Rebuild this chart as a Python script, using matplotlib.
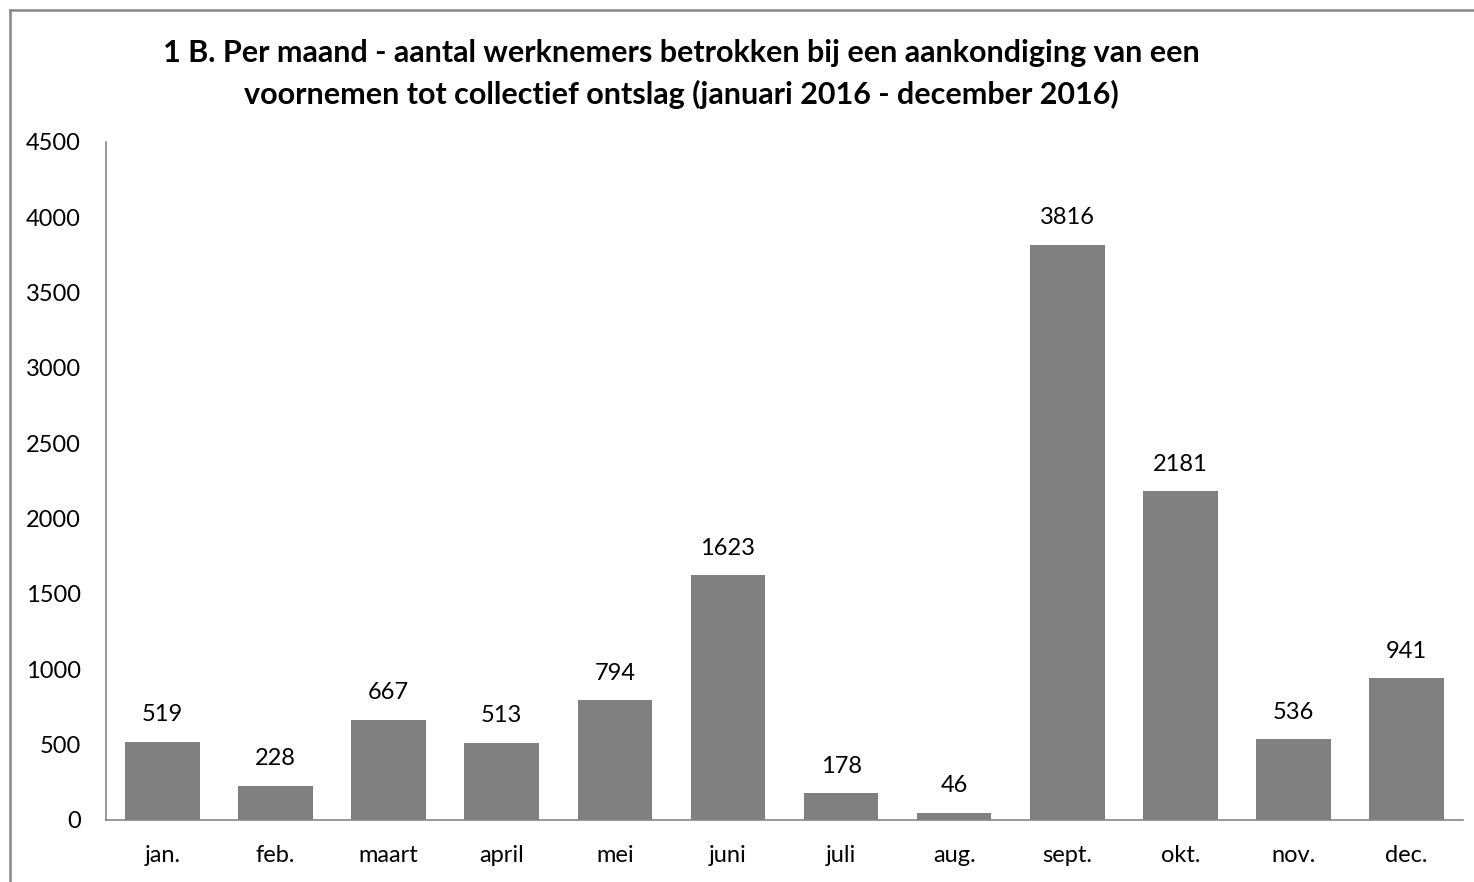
import matplotlib.pyplot as plt
from matplotlib.lines import Line2D

maanden = ['jan.', 'feb.', 'maart', 'april', 'mei', 'juni', 'juli', 'aug.',
           'sept.', 'okt.', 'nov.', 'dec.']
werknemers = [519, 228, 667, 513, 794, 1623, 178, 46, 3816, 2181, 536, 941]
yticks = [0, 500, 1000, 1500, 2000, 2500, 3000, 3500, 4000, 4500]

plt.rcParams['font.family'] = ['Lato', 'DejaVu Sans']

W, H = 1474, 882
fig = plt.figure(figsize=(W / 100, H / 100), dpi=100)
ax = fig.add_axes([106 / W, 1 - 820 / H, (1463 - 106) / W, (820 - 142) / H])

x = range(len(maanden))
bars = ax.bar(x, werknemers, width=0.66, color='#808080')
for b, v in zip(bars, werknemers):
    ax.annotate(str(v), (b.get_x() + b.get_width() / 2, v), xytext=(0, 12),
                textcoords='offset points', ha='center', va='bottom', fontsize=17)

ax.set_xlim(-0.5, len(maanden) - 0.5)
ax.set_ylim(0, 4500)
ax.set_yticks(yticks)
ax.set_xticks(list(x))
ax.set_xticklabels(maanden)
ax.tick_params(axis='both', length=0, labelsize=17)
ax.tick_params(axis='y', pad=18)
ax.tick_params(axis='x', pad=18)
for s in ['top', 'right']:
    ax.spines[s].set_visible(False)
for s in ['left', 'bottom']:
    ax.spines[s].set_color('#868686')
    ax.spines[s].set_linewidth(1.2)

fig.text(681 / W, 1 - 74 / H,
         '1 B. Per maand - aantal werknemers betrokken bij een aankondiging van een\n'
         'voornemen tot collectief ontslag (januari 2016 - december 2016)',
         ha='center', va='center', fontsize=22, fontweight='bold',
         multialignment='center', linespacing=1.5)

# frame of the chart area (cut off at right and bottom)
fig.add_artist(Line2D([10 / W, 10 / W], [0, 1 - 10 / H], transform=fig.transFigure,
                      color='#868686', lw=1.8))
fig.add_artist(Line2D([10 / W, 1], [1 - 10 / H, 1 - 10 / H], transform=fig.transFigure,
                      color='#868686', lw=1.8))

fig.savefig('out.png', dpi=100)
